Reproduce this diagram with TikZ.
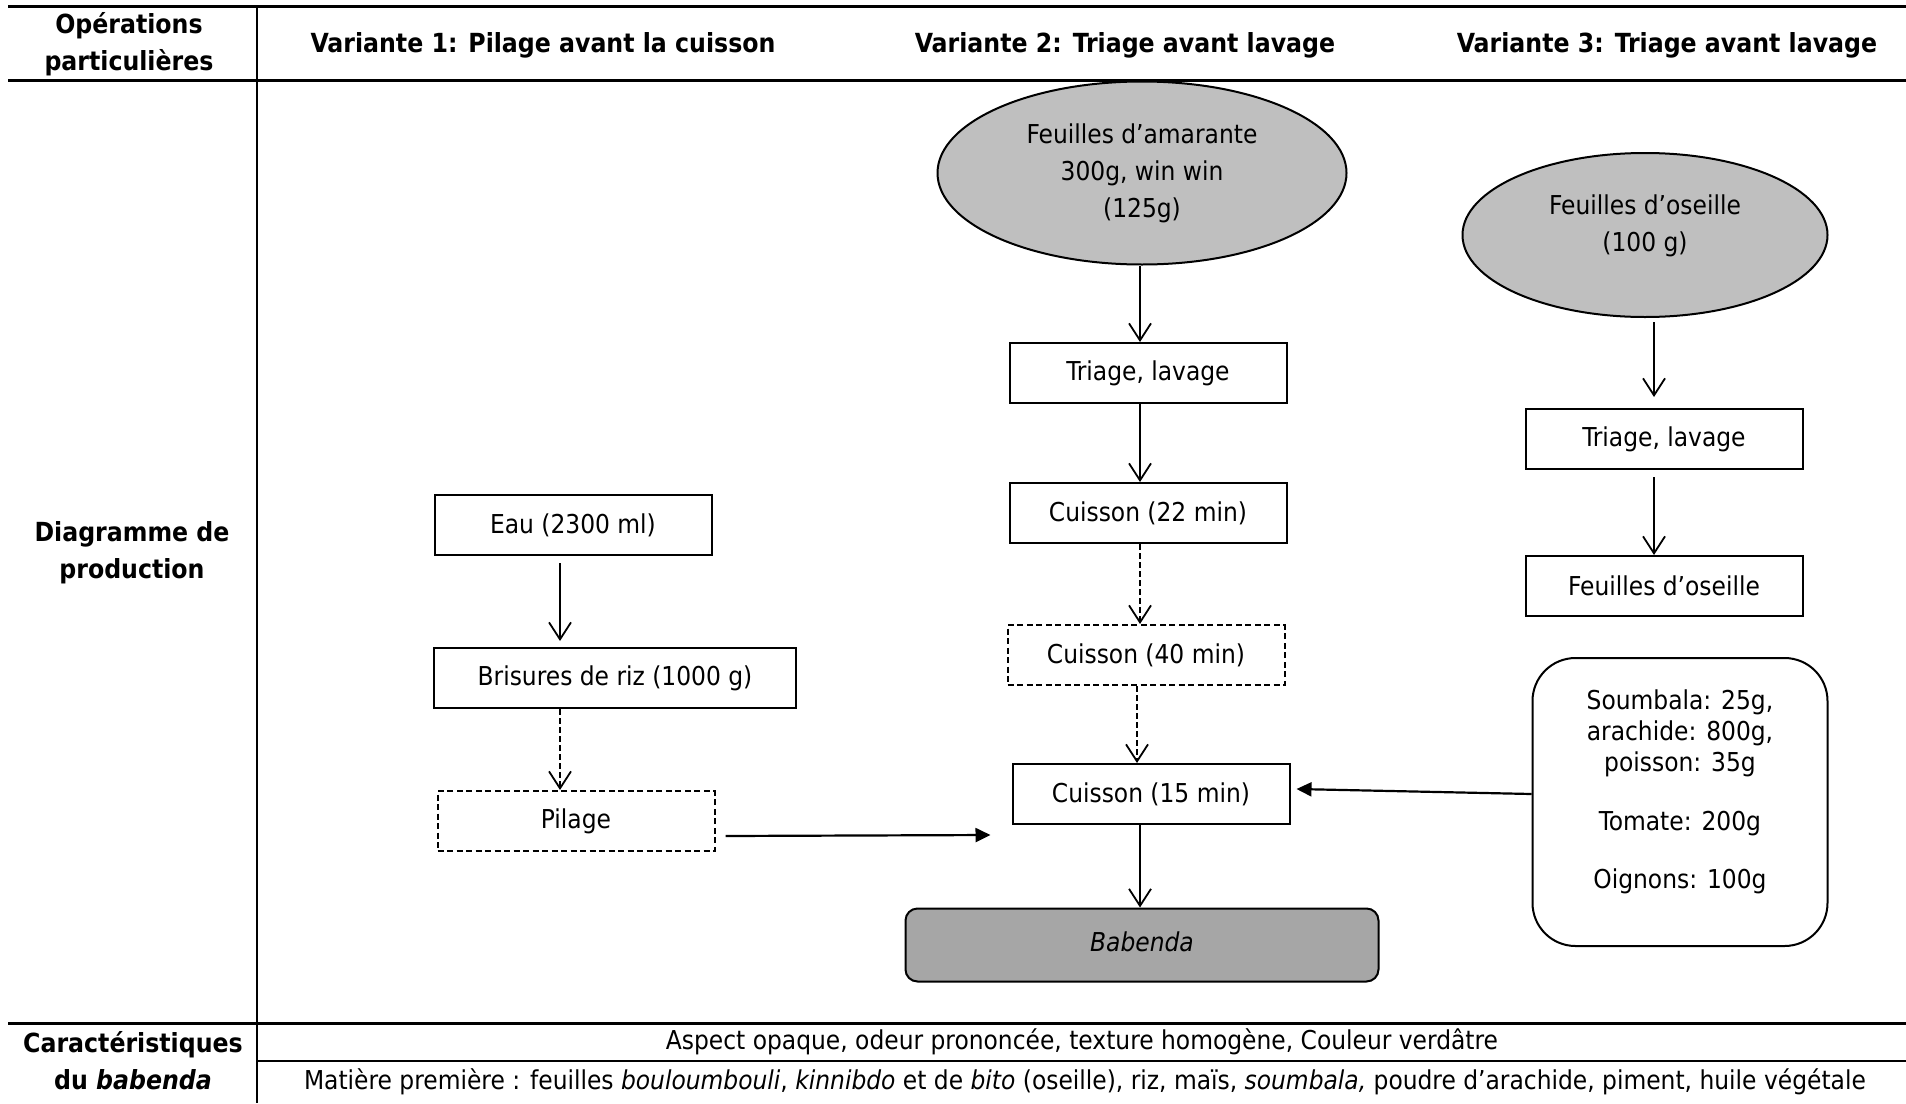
\documentclass[tikz,border=0pt]{standalone}
\usepackage{fontspec}
\setmainfont{DejaVu Sans Condensed}[BoldFont={DejaVu Sans Condensed Bold},ItalicFont={DejaVu Sans Condensed Oblique},BoldItalicFont={DejaVu Sans Condensed Bold Oblique}]
\usepackage{tikz}
\usetikzlibrary{shapes.geometric,arrows.meta}
\definecolor{grisclair}{RGB}{191,191,191}
\definecolor{grisfonce}{RGB}{166,166,166}

\begin{document}
\begin{tikzpicture}[x=1pt, y=-1pt,
    every node/.style={font=\fontsize{26pt}{37pt}\selectfont, align=center, inner sep=0pt},
    every label/.style={font=\fontsize{26pt}{37pt}\selectfont, align=center, inner sep=0pt},
    hd/.style={font=\bfseries\fontsize{26.3pt}{37pt}\selectfont},
    box/.style={draw, line width=2pt, minimum width=277pt, minimum height=60pt},
    dbox/.style={box, dash pattern=on 6pt off 3.5pt},
    oval/.style={ellipse, draw, line width=2pt, fill=grisclair},
    arr/.style={-{Straight Barb[length=17pt,width=22pt]}, line width=1.8pt},
    darr/.style={arr, dash pattern=on 6pt off 3pt},
    farr/.style={-{Triangle[length=15pt,width=14pt]}, line width=2.2pt}]
    \useasboundingbox (0,0) rectangle (1906,1103);

    % Table
    \draw[line width=3pt] (8,6) -- (1906,6);
    \draw[line width=3pt] (8,80) -- (1906,80);
    \draw[line width=3pt] (8,1023) -- (1906,1023);
    \draw[line width=2.5pt] (257,1061) -- (1906,1061);
    \draw[line width=2pt] (257,6) -- (257,1103);

    % Headers
    \node[hd] (ops) at (129,44) {Opérations\\particulières};
    \node[hd] (v1) at (543,45) {Variante 1: Pilage avant la cuisson};
    \node[hd] (v2) at (1125,45) {Variante 2: Triage avant lavage};
    \node[hd] (v3) at (1667,45) {Variante 3: Triage avant lavage};
    \node[hd] (diag) at (132,553) {Diagramme de\\production};
    \node[hd] (carac) at (133,1061) {Caractéristiques\\du \textit{babenda}};

    % Variante 1
    \node[box] (eau) at (573,525) {Eau (2300 ml)};
    \node[box, minimum width=362pt] (riz) at (615,678) {Brisures de riz (1000 g)};
    \node[dbox] (pil) at (576,821) {Pilage};

    % Variante 2
    \node[oval, minimum width=409pt, minimum height=183pt] (ama) at (1142,173) {Feuilles d’amarante\\300g, win win\\(125g)};
    \node[box] (tri) at (1148,373) {Triage, lavage};
    \node[box] (c22) at (1148,513) {Cuisson (22 min)};
    \node[dbox] (c40) at (1146,655) {Cuisson (40 min)};
    \node[box] (c15) at (1151,794) {Cuisson (15 min)};
    \node[draw, line width=2pt, rounded corners=12pt, fill=grisfonce, minimum width=473pt, minimum height=73pt,
          label={[yshift=3pt]center:\itshape Babenda}] (bab) at (1142,945) {};

    % Variante 3
    \node[oval, minimum width=365pt, minimum height=164pt,
          label={[yshift=9pt]center:Feuilles d’oseille\\(100 g)}] (ose) at (1645,235) {};
    \node[box] (tri3) at (1664,439) {Triage, lavage};
    \node[box] (feu) at (1664,586) {Feuilles d’oseille};
    \node[draw, line width=2pt, rounded corners=43pt, minimum width=295pt, minimum height=288pt,
          label={[yshift=10pt, font=\fontsize{26pt}{31pt}\selectfont]center:Soumbala: 25g,\\arachide: 800g,\\poisson: 35g\\[28pt]Tomate: 200g\\[27pt]Oignons: 100g}] (ing) at (1680,802) {};

    % Arrows
    \draw[arr] ([yshift=-7pt]eau.south -| 560,0) -- ([yshift=6pt]riz.north -| 560,0);
    \draw[darr] (riz.south -| 560,0) -- (pil.north -| 560,0);
    \draw[farr] ([xshift=10pt,yshift=-15pt]pil.east) -- ([xshift=-21pt,yshift=-41pt]c15.west);
    \draw[arr] (ama.south -| 1140,0) -- (tri.north -| 1140,0);
    \draw[arr] (tri.south -| 1140,0) -- (c22.north -| 1140,0);
    \draw[darr] (c22.south -| 1140,0) -- (c40.north -| 1140,0);
    \draw[darr] (c40.south -| 1137,0) -- (c15.north -| 1137,0);
    \draw[arr] (c15.south -| 1140,0) -- (bab.north -| 1140,0);
    \draw[arr] ([yshift=-4pt]ose.south -| 1654,0) -- ([yshift=11pt]tri3.north -| 1654,0);
    \draw[arr] ([yshift=-7pt]tri3.south -| 1654,0) -- (feu.north -| 1654,0);
    \draw[farr] ([yshift=8pt]ing.west) -- ([xshift=6pt,yshift=5pt]c15.east);

    % Caracteristiques
    \node (asp) at (1082,1042) {Aspect opaque, odeur prononcée, texture homogène, Couleur verdâtre};
    \node (mat) at (1085,1082) {Matière première : feuilles \textit{bouloumbouli}, \textit{kinnibdo} et de \textit{bito} (oseille), riz, maïs, \textit{soumbala,} poudre d’arachide, piment, huile végétale};
\end{tikzpicture}
\end{document}
